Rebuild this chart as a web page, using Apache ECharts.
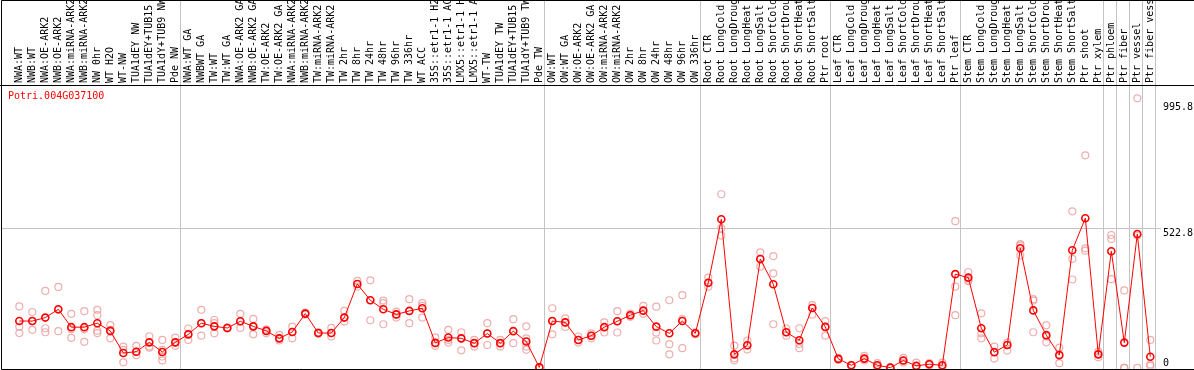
<!DOCTYPE html>
<html><head><meta charset="utf-8">
<script src="https://cdn.jsdelivr.net/npm/echarts@6/dist/echarts.min.js"></script>
<style>html,body{margin:0;padding:0;background:#fff}#c{width:1194px;height:370px}</style>
</head><body><div id="c"></div>
<script>
const geneTitle = 'Potri.004G037100';
const categories = [
  'NWA:WT','NWB:WT','NWA:OE-ARK2','NWB:OE-ARK2','NWA:miRNA-ARK2','NWB:miRNA-ARK2','NW 0hr','WT H2O','WT-NW','TUA1dEY NW','TUA1dEY+TUB15 NW','TUA1dY+TUB9 NW','Pde NW',
  'NWA:WT GA','NWBWT GA','TW:WT','TW:WT GA','NWA:OE-ARK2 GA','NWB:OE-ARK2 GA','TW:OE-ARK2','TW:OE-ARK2 GA','NWA:miRNA-ARK2 GA','NWB:miRNA-ARK2 GA','TW:miRNA-ARK2','TW:miRNA-ARK2 GA',
  'TW 2hr','TW 8hr','TW 24hr','TW 48hr','TW 96hr','TW 336hr','WT ACC','35S::etr1-1 H2O','35S::etr1-1 ACC','LMX5::etr1-1 H2O','LMX5::etr1-1 ACC','WT-TW','TUA1dEY TW','TUA1dEY+TUB15 TW','TUA1dY+TUB9 TW','Pde TW',
  'OW:WT','OW:WT GA','OW:OE-ARK2','OW:OE-ARK2 GA','OW:miRNA-ARK2','OW:miRNA-ARK2 GA','OW 2hr','OW 8hr','OW 24hr','OW 48hr','OW 96hr','OW 336hr',
  'Root CTR','Root LongCold','Root LongDrought','Root LongHeat','Root LongSalt','Root ShortCold','Root ShortDrought','Root ShortHeat','Root ShortSalt','Ptr root',
  'Leaf CTR','Leaf LongCold','Leaf LongDrought','Leaf LongHeat','Leaf LongSalt','Leaf ShortCold','Leaf ShortDrought','Leaf ShortHeat','Leaf ShortSalt','Ptr leaf',
  'Stem CTR','Stem LongCold','Stem LongDrought','Stem LongHeat','Stem LongSalt','Stem ShortCold','Stem ShortDrought','Stem ShortHeat','Stem ShortSalt','Ptr shoot','Ptr xylem',
  'Ptr phloem','Ptr fiber','Ptr vessel','Ptr fiber vessel'
];
const groupSizes = [13, 28, 12, 10, 10, 11, 1, 1, 1, 1];
const means = [
  176,176,189,220,153,153,168,139,56,61,96,60,96,
  126,168,156,150,175,156,139,111,135,204,131,131,189,315,254,220,201,214,224,94,114,111,93,129,93,138,99,2,
  176,171,105,121,153,175,198,215,155,130,176,130,
  320,558,51,85,409,314,134,104,225,154,
  34,10,35,10,1,28,8,14,10,352,
  339,149,59,86,449,216,123,48,442,562,51,
  438,95,503,42
];
const replicates = [
  [231,155,131],[210,176,143],[289,149,134],[304,218,138],[203,145,113],[213,145,98],[218,198,140,131],[161,143,111],[80,68,21],[83,61,48],[119,80,76],[105,68,43,28],[114,96,83],
  [148,126,105],[218,168,121],[180,168,130],[148,150,152],[203,175,150],[184,155,126],[145,139,130],[124,111,103],[155,135,111],[200,204,208],[128,131,134],[150,131,118],[214,189,174],
  [327,315,305],[329,254,179],[253,243,164],[211,201,189],[258,214,168],[243,233,189],[115,93,83],[143,105,95],[134,111,66],[105,93,80],[168,129,86],[105,93,80],[183,138,93],[156,111,80,68],[2,2,3],
  [224,176,126],[186,171,154],[118,105,95],[130,121,111],[171,153,133],[213,175,133],[192,198,204],[233,215,203],[230,133,103],[254,89,51],[273,183,74],[126,130,134],
  [339,320,305],[652,524,497],[84,36,28],[103,85,69],[434,409,380],[420,355,164],[148,134,121],[149,90,74],[236,225,200],[176,154,121],
  [30,34,38],[8,10,12],[45,35,28],[18,10,5],[0,1,2],[38,28,20],[20,6,2],[18,14,10],[20,10,5],[551,305,198],
  [360,330,325],[205,130,111],[80,61,35],[95,86,65],[465,459,422],[258,253,134],[160,118,96],[76,50,18],[588,409,332],[798,449,440],[61,51,40],
  [499,484,333],[291,0,0],[1012,497,0],[105,13,8]
];
const yLabelUpper = [522.8, 995.8];
const yLabelZero = [0];
const gridLineValue = 522.8;

const FONT = 'DejaVu Sans Mono';
const Y_MIN = -4, Y_MAX = 1062;
const sepOffset = 5 / 13;
const separators = [-1 + sepOffset];
let cum = 0;
groupSizes.forEach(n => { cum += n; separators.push(cum - 1 + sepOffset); });
const repData = [];
replicates.forEach((r, i) => r.forEach(v => repData.push([i, v])));

const chart = echarts.init(document.getElementById('c'), null, {renderer: 'canvas'});
chart.setOption({
  animation: false,
  backgroundColor: '#fff',
  title: {text: geneTitle, left: 8, top: 91, padding: 0,
    textStyle: {color: '#ff0000', fontFamily: FONT, fontSize: 10, fontWeight: 'normal'}},
  grid: [
    {left: 12.8, right: 37.2, top: 85, bottom: 1, outerBoundsMode: 'none', containLabel: false},
    {left: 1, right: 33, top: 85, bottom: 1, outerBoundsMode: 'none', containLabel: false},
    {left: 12.8, right: 37.2, top: 0, bottom: 1, outerBoundsMode: 'none', containLabel: false}
  ],
  xAxis: [
    {gridIndex: 0, type: 'category', data: categories, position: 'top', boundaryGap: true,
      axisLine: {show: false}, axisTick: {show: false}, splitLine: {show: false},
      axisLabel: {interval: 0, rotate: 90, margin: 2, fontFamily: FONT, fontSize: 10, color: '#000', hideOverlap: false}},
    {gridIndex: 1, type: 'value', min: 0, max: 1, show: false},
    {gridIndex: 2, type: 'value', min: -0.5, max: 87.5, show: false}
  ],
  yAxis: [
    {gridIndex: 0, type: 'value', min: Y_MIN, max: Y_MAX, show: false},
    {gridIndex: 1, type: 'value', min: Y_MIN, max: Y_MAX, position: 'right',
      axisLine: {show: false}, axisTick: {show: false}, splitLine: {show: false},
      axisLabel: {customValues: yLabelUpper, verticalAlign: 'top', margin: 2, fontFamily: FONT, fontSize: 10, color: '#000',
        formatter: v => String(v)}},
    {gridIndex: 2, type: 'value', min: 0, max: 1, show: false},
    {gridIndex: 1, type: 'value', min: Y_MIN, max: Y_MAX, position: 'right',
      axisLine: {show: false}, axisTick: {show: false}, splitLine: {show: false},
      axisLabel: {customValues: yLabelZero, verticalAlign: 'bottom', margin: 2, fontFamily: FONT, fontSize: 10, color: '#000',
        formatter: v => String(v)}}
  ],
  series: [
    {type: 'line', xAxisIndex: 2, yAxisIndex: 2, data: [[0, -5]], symbol: 'none', silent: true, z: 0,
      lineStyle: {opacity: 0},
      markLine: {silent: true, symbol: ['none', 'none'], label: {show: false},
        lineStyle: {color: '#c4c4c4', width: 1, type: 'solid'},
        data: separators.map(x => ({xAxis: x}))}},
    {type: 'line', xAxisIndex: 1, yAxisIndex: 1, data: [[0, -50]], symbol: 'none', silent: true, z: 0,
      lineStyle: {opacity: 0},
      markLine: {silent: true, symbol: ['none', 'none'], label: {show: false},
        lineStyle: {color: '#c4c4c4', width: 1, type: 'solid'},
        data: [{yAxis: gridLineValue}]}},
    {type: 'scatter', xAxisIndex: 0, yAxisIndex: 0, data: repData, symbol: 'circle', symbolSize: 7, z: 3,
      itemStyle: {color: 'rgba(0,0,0,0)', borderColor: '#ec9a9a', borderWidth: 1.2}},
    {type: 'line', xAxisIndex: 0, yAxisIndex: 0, data: means, symbol: 'circle', symbolSize: 7, z: 5,
      lineStyle: {color: '#ff0000', width: 1},
      itemStyle: {color: 'rgba(0,0,0,0)', borderColor: '#ff0000', borderWidth: 1.6}}
  ],
  graphic: [
    {type: 'rect', z: 100, silent: true, shape: {x: 1.5, y: 0.5, width: 1300, height: 369},
      style: {fill: 'none', stroke: '#000', lineWidth: 1}},
    {type: 'line', z: 100, silent: true, shape: {x1: 0, y1: 85.5, x2: 1194, y2: 85.5},
      style: {stroke: '#000', lineWidth: 1}}
  ]
});
</script></body></html>
